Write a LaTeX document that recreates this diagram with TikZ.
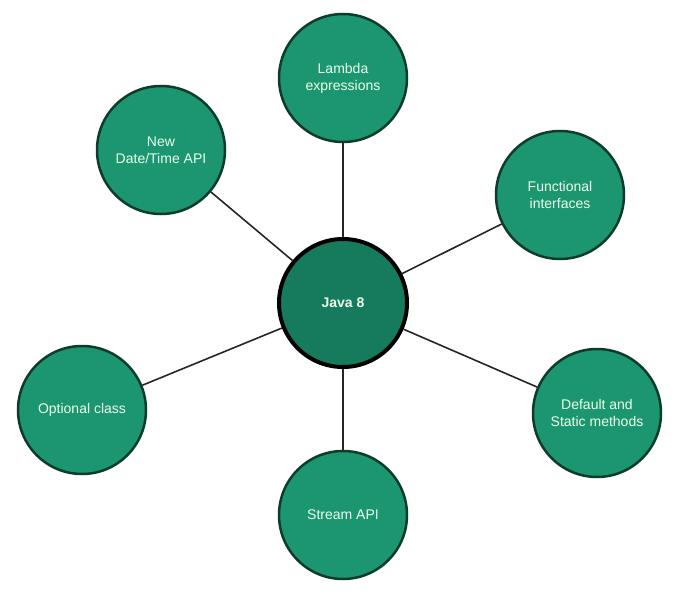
\documentclass[tikz,border=0pt]{standalone}
\usepackage{fontspec}
\setmainfont{Liberation Sans}
\definecolor{bubfill}{RGB}{28,150,112}
\definecolor{hubfill}{RGB}{22,122,92}
\definecolor{bubedge}{RGB}{14,60,44}
\begin{document}
\begin{tikzpicture}[x=1pt,y=-1pt,
  bub/.style={circle,draw=bubedge,line width=2.5pt,fill=bubfill,minimum size=128pt,inner sep=0pt,align=center,text=white!92!green,font=\fontsize{14}{17}\selectfont},
  hub/.style={bub,line width=4pt,draw=black,fill=hubfill,font=\bfseries\fontsize{14}{17}\selectfont},
  link/.style={draw=black!85,line width=1.6pt}]
\useasboundingbox (0,0) rectangle (686,594);
\node[hub] (c) at (343,303) {Java 8};
\node[bub] (l) at (343,78) {Lambda\\expressions};
\node[bub] (f) at (560,195) {Functional\\interfaces};
\node[bub] (d) at (597,413) {Default and\\Static methods};
\node[bub] (s) at (343,515) {Stream API};
\node[bub] (o) at (82,410) {Optional class};
\node[bub] (n) at (161,150) {New\\Date/Time API};
\foreach \t in {l,f,d,s,o,n} \draw[link] (c) -- (\t);
\end{tikzpicture}
\end{document}
